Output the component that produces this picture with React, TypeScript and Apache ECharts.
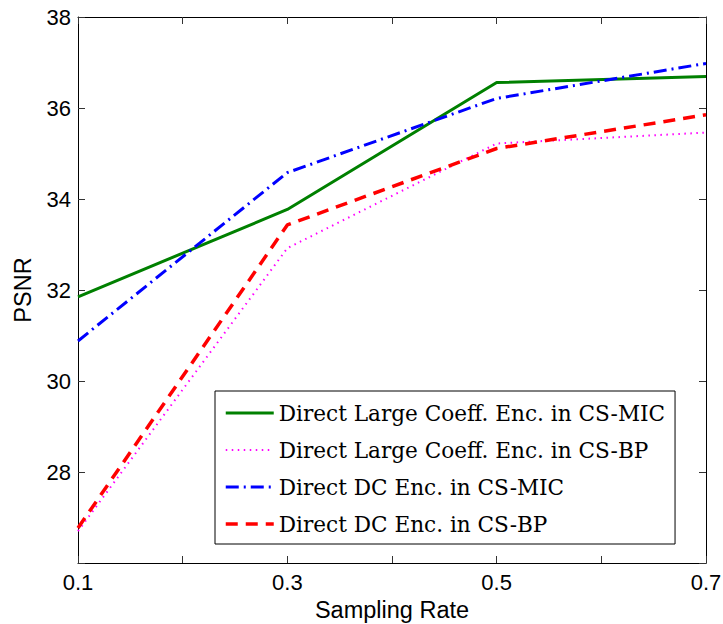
import React, { useEffect, useRef } from "react";
import * as echarts from "echarts";

const samplingRates = [0.1, 0.3, 0.5, 0.7];
const largeCoeffMIC = [31.85, 33.77, 36.56, 36.69];
const largeCoeffBP = [26.7, 32.92, 35.22, 35.46];
const dcMIC = [30.88, 34.58, 36.21, 36.98];
const dcBP = [26.77, 33.43, 35.11, 35.85];
const seriesNames = [
  "Direct Large Coeff. Enc. in CS-MIC",
  "Direct Large Coeff. Enc. in CS-BP",
  "Direct DC Enc. in CS-MIC",
  "Direct DC Enc. in CS-BP",
];
const xTickLabels = ["0.1", "0.3", "0.5", "0.7"];
const yTickLabels = ["28", "30", "32", "34", "36", "38"];

const pair = (ys: number[]) => samplingRates.map((x, i) => [x, ys[i]]);

export default function App() {
  const ref = useRef<HTMLDivElement>(null);
  useEffect(() => {
    if (!ref.current) return;
    const chart = echarts.init(ref.current, null, { renderer: "svg" });
    const sans = "'Liberation Sans', Arial, Helvetica, sans-serif";
    const axisCommon = {
      axisLine: { show: true, lineStyle: { color: "#000", width: 1 } },
      axisTick: { show: true, inside: true, length: 7, lineStyle: { color: "#333", width: 1 } },
      splitLine: { show: false },
    };
    chart.setOption({
      animation: false,
      backgroundColor: "#fff",
      grid: {
        left: 78,
        right: 17,
        top: 17,
        bottom: 61,
        containLabel: false,
        outerBoundsMode: "none",
      },
      xAxis: [
        {
          type: "value",
          min: 0.1,
          max: 0.7,
          interval: 0.1,
          position: "bottom",
          name: "Sampling Rate",
          nameLocation: "middle",
          nameGap: 32,
          nameTextStyle: { fontFamily: sans, fontSize: 23.5, color: "#000" },
          ...axisCommon,
          axisLabel: {
            margin: 8,
            fontFamily: sans,
            fontSize: 22,
            color: "#000",
            formatter: (v: number) => {
              const s = v.toFixed(1);
              return xTickLabels.includes(s) ? s : "";
            },
          },
        },
        {
          type: "value",
          min: 0.1,
          max: 0.7,
          interval: 0.1,
          position: "top",
          ...axisCommon,
          axisLabel: { show: false },
        },
      ],
      yAxis: [
        {
          type: "value",
          min: 26,
          max: 38,
          interval: 2,
          position: "left",
          name: "PSNR",
          nameLocation: "middle",
          nameGap: 43,
          nameRotate: 90,
          nameTextStyle: { fontFamily: sans, fontSize: 23.5, color: "#000" },
          ...axisCommon,
          axisLabel: {
            margin: 7,
            fontFamily: sans,
            fontSize: 22,
            color: "#000",
            formatter: (v: number) => {
              const s = String(Math.round(v));
              return yTickLabels.includes(s) ? s : "";
            },
          },
        },
        {
          type: "value",
          min: 26,
          max: 38,
          interval: 2,
          position: "right",
          ...axisCommon,
          axisLabel: { show: false },
        },
      ],
      legend: {
        orient: "vertical",
        left: 215,
        top: 391,
        backgroundColor: "#fff",
        borderColor: "#000",
        borderWidth: 1,
        padding: [9, 10, 7, 9],
        itemGap: 11,
        itemWidth: 48,
        itemHeight: 14,
        itemStyle: { opacity: 0 },
        lineStyle: { width: "inherit", type: "inherit" },
        textStyle: {
          fontFamily: "'DejaVu Serif', serif",
          fontSize: 21.6,
          color: "#000",
          lineHeight: 26,
        },
        data: seriesNames,
      },
      series: [
        {
          name: seriesNames[0],
          type: "line",
          data: pair(largeCoeffMIC),
          symbol: "none",
          color: "#008000",
          lineStyle: { color: "#008000", width: 3 },
        },
        {
          name: seriesNames[1],
          type: "line",
          data: pair(largeCoeffBP),
          symbol: "none",
          color: "#ff00ff",
          lineStyle: { color: "#ff00ff", width: 2, type: [1.5, 4.5] },
        },
        {
          name: seriesNames[2],
          type: "line",
          data: pair(dcMIC),
          symbol: "none",
          color: "#0000ff",
          lineStyle: { color: "#0000ff", width: 3, type: [13, 5, 2, 5] },
        },
        {
          name: seriesNames[3],
          type: "line",
          data: pair(dcBP),
          symbol: "none",
          color: "#ff0000",
          lineStyle: { color: "#ff0000", width: 3.5, type: [12, 8] },
        },
      ],
    });
    return () => chart.dispose();
  }, []);
  return (
    <div
      ref={ref}
      style={{ position: "fixed", left: 0, top: 0, width: 723, height: 624 }}
    />
  );
}
